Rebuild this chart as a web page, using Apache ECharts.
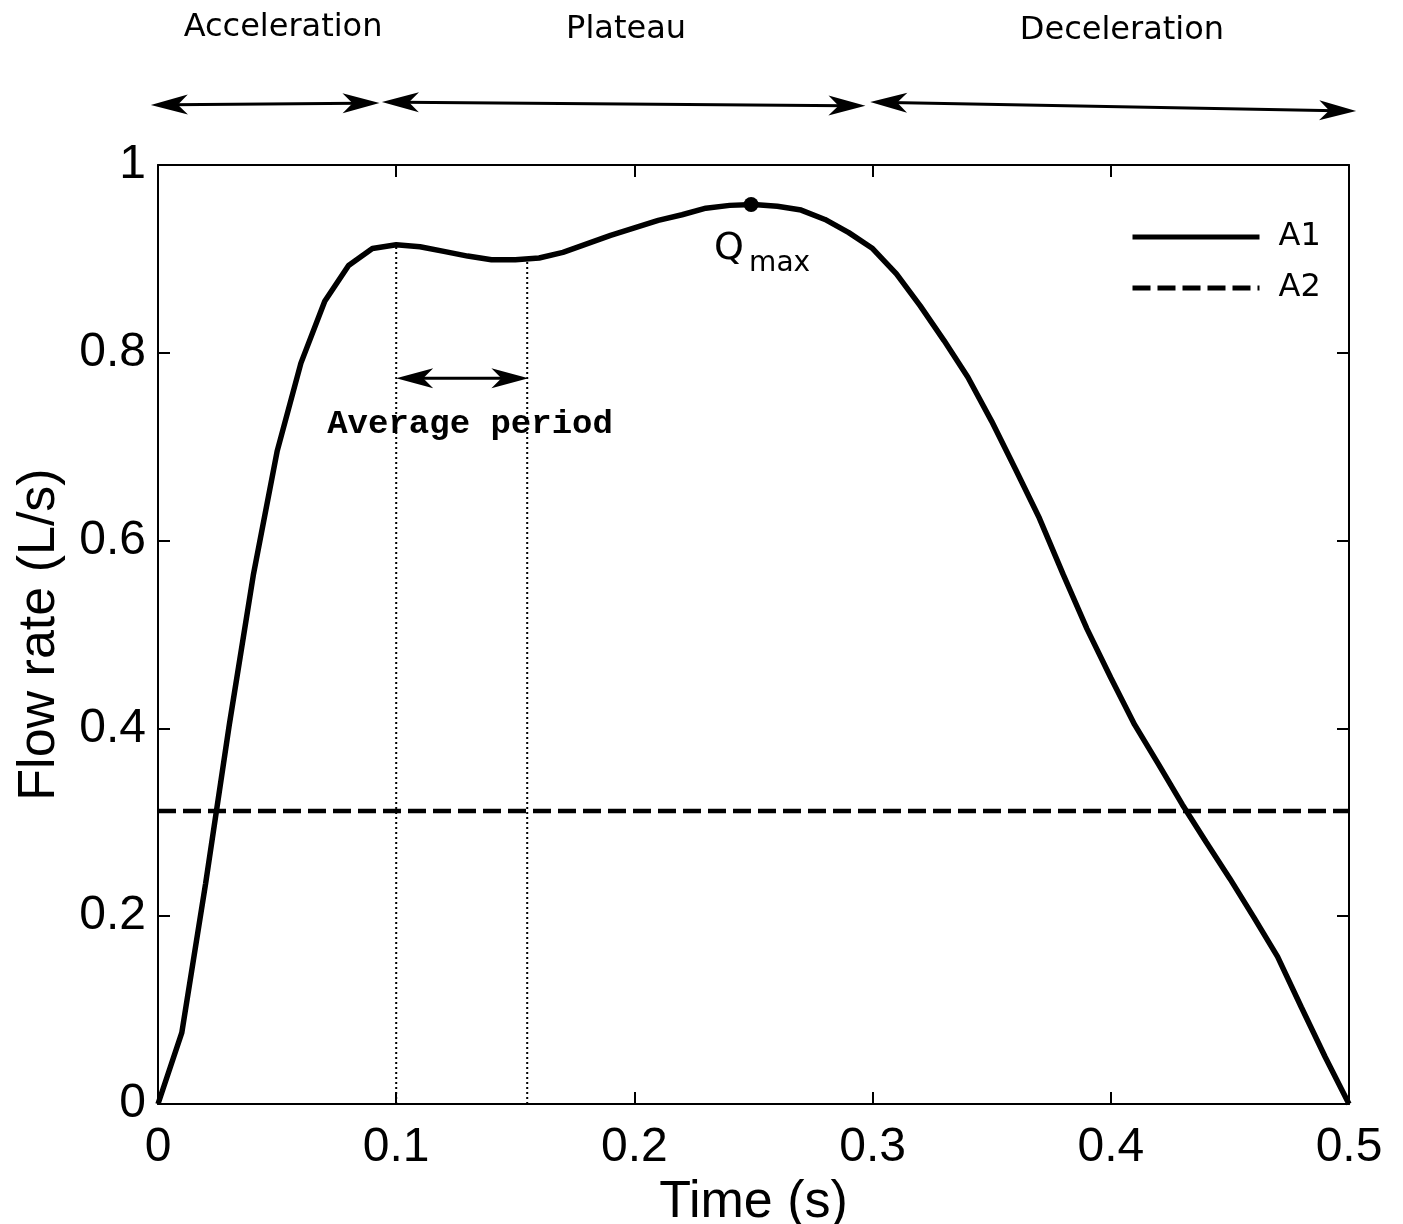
<!DOCTYPE html>
<html>
<head>
<meta charset="utf-8">
<script src="https://cdn.jsdelivr.net/npm/echarts@6/dist/echarts.min.js"></script>
<style>html,body{margin:0;padding:0;background:#fff;overflow:hidden;}#main{width:1403px;height:1224px;}</style>
</head>
<body>
<div id="main"></div>
<script>
// ---- data ----
const time = [0,0.01,0.02,0.03,0.04,0.05,0.06,0.07,0.08,0.09,0.10,0.11,0.12,0.13,0.14,0.15,0.16,0.17,0.18,0.19,0.20,0.21,0.22,0.23,0.24,0.25,0.26,0.27,0.28,0.29,0.30,0.31,0.32,0.33,0.34,0.35,0.36,0.37,0.38,0.39,0.40,0.41,0.42,0.43,0.44,0.45,0.46,0.47,0.48,0.49,0.50];
const flowA1 = [0,0.076,0.235,0.405,0.563,0.695,0.789,0.855,0.893,0.911,0.915,0.913,0.908,0.903,0.899,0.899,0.901,0.907,0.916,0.925,0.933,0.941,0.947,0.954,0.957,0.958,0.956,0.952,0.942,0.928,0.911,0.884,0.850,0.813,0.774,0.727,0.676,0.624,0.564,0.506,0.454,0.404,0.362,0.319,0.279,0.240,0.199,0.157,0.103,0.050,0];
const flowA2 = 0.312;            // constant mean flow rate
const avgPeriod = [0.1, 0.155];  // average period limits (s)
const avgPeriodFlow = [0.915, 0.8996];
const qmax = [0.249, 0.958];
const phaseNames = ['Acceleration', 'Plateau', 'Deceleration'];
const phaseStart = [-0.003, 0.094, 0.299];
const phaseEnd = [0.093, 0.297, 0.503];
const xTicks = [0, 0.1, 0.2, 0.3, 0.4, 0.5];
const yTicks = [0, 0.2, 0.4, 0.6, 0.8, 1];

const a1Data = time.map((t, i) => [t, flowA1[i]]);
const a2Data = [[time[0], flowA2], [time[time.length - 1], flowA2]];

const fontMain = 'Liberation Sans, Arial, sans-serif';
const fontDeja = 'DejaVu Sans, sans-serif';

const axisCommon = {
  type: 'value',
  axisLine: { show: true, onZero: false, lineStyle: { color: '#000', width: 2 } },
  axisTick: { show: true, inside: true, length: 12, lineStyle: { color: '#000', width: 2 } },
  splitLine: { show: false }
};

const option = {
  animation: false,
  backgroundColor: '#fff',
  grid: { left: 158, width: 1191, top: 165, height: 939, containLabel: false, outerBoundsMode: 'none' },
  legend: {
    data: ['A1', 'A2'],
    orient: 'vertical',
    left: 1125, top: 216,
    itemWidth: 127, itemHeight: 26, itemGap: 19,
    itemStyle: { opacity: 0 },
    lineStyle: { width: 5 },
    textStyle: { fontSize: 32, fontFamily: fontDeja, color: '#000', padding: [0, 0, 0, 14] }
  },
  xAxis: [
    Object.assign({}, axisCommon, {
      min: 0, max: 0.5, interval: 0.1, position: 'bottom',
      axisLabel: { fontSize: 48, color: '#000', fontFamily: fontMain, margin: 20,
        formatter: v => String(+v.toFixed(2)) },
      name: 'Time (s)', nameLocation: 'middle', nameGap: 59,
      nameTextStyle: { fontSize: 52, color: '#000', fontFamily: fontMain }
    }),
    Object.assign({}, axisCommon, {
      min: 0, max: 0.5, interval: 0.1, position: 'top', axisLabel: { show: false }
    })
  ],
  yAxis: [
    Object.assign({}, axisCommon, {
      min: 0, max: 1, interval: 0.2, position: 'left',
      axisLabel: { fontSize: 48, color: '#000', fontFamily: fontMain, margin: 12,
        formatter: v => String(+v.toFixed(2)) },
      name: 'Flow rate (L/s)', nameLocation: 'middle', nameGap: 92,
      nameTextStyle: { fontSize: 52, color: '#000', fontFamily: fontMain }
    }),
    Object.assign({}, axisCommon, {
      min: 0, max: 1, interval: 0.2, position: 'right', axisLabel: { show: false }
    })
  ],
  series: [
    {
      name: 'A1', type: 'line', data: a1Data, symbol: 'none', smooth: false,
      lineStyle: { color: '#000', width: 5.5, type: 'solid' }, itemStyle: { color: '#000' }, z: 5
    },
    {
      name: 'A2', type: 'line', data: a2Data, symbol: 'none',
      lineStyle: { color: '#000', width: 4.5, type: [18, 7] }, itemStyle: { color: '#000' }, z: 4
    },
    {
      type: 'line', data: [[avgPeriod[0], 0], [avgPeriod[0], avgPeriodFlow[0]]], symbol: 'none',
      lineStyle: { color: '#000', width: 2, type: [2, 3] }, z: 3, silent: true
    },
    {
      type: 'line', data: [[avgPeriod[1], 0], [avgPeriod[1], avgPeriodFlow[1]]], symbol: 'none',
      lineStyle: { color: '#000', width: 2, type: [2, 3] }, z: 3, silent: true
    },
    {
      type: 'scatter', data: [qmax], symbol: 'circle', symbolSize: 15,
      itemStyle: { color: '#000', opacity: 1 }, z: 8, silent: true
    }
  ]
};

const chart = echarts.init(document.getElementById('main'));
chart.setOption(option);

function px(t, q) { return chart.convertToPixel({ gridIndex: 0 }, [t, q]); }

function arrowEls(p0, p1, lw) {
  const L = 37, W = 10, N = 27;
  const dx = p1[0] - p0[0], dy = p1[1] - p0[1];
  const len = Math.hypot(dx, dy);
  const ux = dx / len, uy = dy / len, nx = -uy, ny = ux;
  const head = (tip, sx, sy) => {
    const bx = tip[0] - sx * L, by = tip[1] - sy * L;
    return {
      type: 'polygon', z: 10,
      shape: { points: [tip, [bx + nx * W, by + ny * W], [tip[0] - sx * N, tip[1] - sy * N], [bx - nx * W, by - ny * W]] },
      style: { fill: '#000' }
    };
  };
  return [
    { type: 'line', z: 10, shape: { x1: p0[0] + ux * 20, y1: p0[1] + uy * 20, x2: p1[0] - ux * 20, y2: p1[1] - uy * 20 },
      style: { stroke: '#000', lineWidth: lw } },
    head(p1, ux, uy), head(p0, -ux, -uy)
  ];
}

const graphics = [];
// phase arrows above the plot
const phaseY0 = [1.064, 1.067, 1.067];
const phaseY1 = [1.066, 1.063, 1.0575];
const phaseLabelX = [0.0525, 0.1965, 0.4047];
const phaseLabelY = [1.146, 1.144, 1.143];
for (let i = 0; i < 3; i++) {
  graphics.push(...arrowEls(px(phaseStart[i], phaseY0[i]), px(phaseEnd[i], phaseY1[i]), 3));
  const lp = px(phaseLabelX[i], phaseLabelY[i]);
  graphics.push({
    type: 'text', z: 10, x: lp[0], y: lp[1],
    style: { text: phaseNames[i], fontSize: 32, fontFamily: fontDeja, fill: '#000', align: 'center', verticalAlign: 'middle' }
  });
}
// average period arrow and label
graphics.push(...arrowEls(px(avgPeriod[0], 0.773), px(avgPeriod[1] + 0.0005, 0.773), 3));
const ap = px((avgPeriod[0] + avgPeriod[1]) / 2 + 0.0035, 0.724);
graphics.push({
  type: 'text', z: 10, x: ap[0], y: ap[1],
  style: { text: 'Average period', fontSize: 34, fontWeight: 'bold', fontFamily: 'Liberation Mono, Courier New, monospace', fill: '#000',
    align: 'center', verticalAlign: 'middle' }
});
// Qmax label
const qp = px(qmax[0], qmax[1]);
graphics.push({
  type: 'text', z: 10, x: qp[0] - 37, y: qp[1] + 45,
  style: { text: 'Q', fontSize: 38, fontFamily: fontDeja, fill: '#000', align: 'left', verticalAlign: 'middle' }
});
graphics.push({
  type: 'text', z: 10, x: qp[0] - 2, y: qp[1] + 59,
  style: { text: 'max', fontSize: 28, fontFamily: fontDeja, fill: '#000', align: 'left', verticalAlign: 'middle' }
});
chart.setOption({ graphic: graphics });
</script>
</body>
</html>
